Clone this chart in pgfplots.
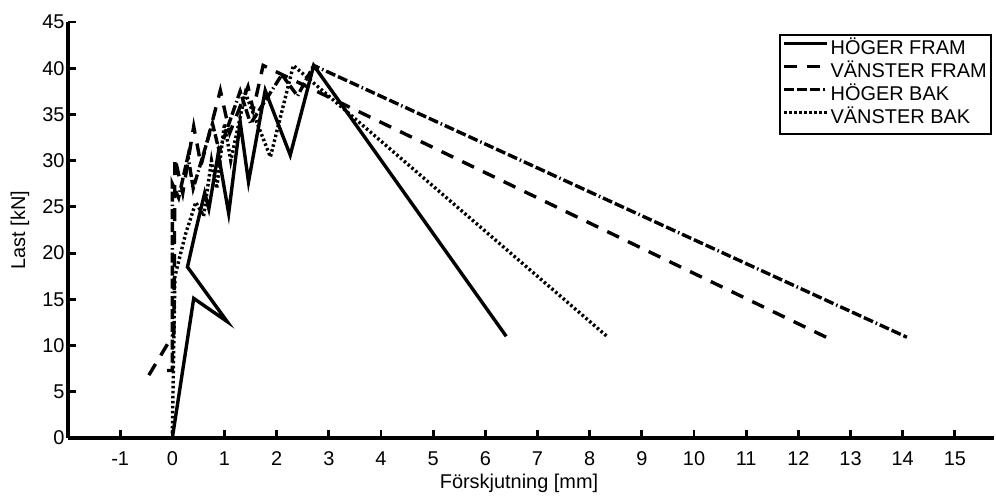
\documentclass[border=0pt]{standalone}
\usepackage{fontspec}
\setmainfont{Liberation Sans}
\usepackage{pgfplots}
\pgfplotsset{compat=1.18}

\begin{document}
\begin{tikzpicture}
\begin{axis}[
  scale only axis,
  width=926bp, height=416bp,
  xmin=-2, xmax=15.75,
  ymin=0, ymax=45,
  axis x line*=bottom, axis y line*=left,
  axis line style={-, line width=3.2bp, black},
  xtick={-1,0,...,15},
  ytick={0,5,...,45},
  tick align=inside,
  major tick length=8bp,
  tick style={line width=2.8bp, black},
  /pgf/number format/assume math mode=true,
  tick label style={font=\fontsize{20}{24}\selectfont},
  xticklabel style={anchor=base, yshift=-27bp},
  every axis x label/.style={at={(axis description cs:0.5,0)}, anchor=base,
    yshift=-50bp, xshift=-12bp, font=\fontsize{20}{24}\selectfont},
  every axis y label/.style={at={(axis description cs:0,0.5)}, xshift=-48bp,
    rotate=90, anchor=center, font=\fontsize{20}{24}\selectfont},
  xlabel={Förskjutning [mm]},
  ylabel={Last [kN]},
  legend cell align=left,
  legend style={at={(0.998,0.971)}, anchor=north east, draw=black, line width=1.8bp,
    fill=white, font=\fontsize{20}{24}\selectfont,
    inner xsep=3bp, inner ysep=5bp, row sep=3bp,
    nodes={inner sep=1.5bp, text height=13.5bp, text depth=3.5bp}},
  legend image code/.code={\draw[#1] (0bp,6.5bp) -- (43bp,6.5bp);},
  every axis plot/.append style={line width=3.4bp, black},
]
% HÖGER FRAM
\addplot[solid] coordinates {
  (0,0) (0.41,15.1) (1.05,12.6) (0.29,18.5) (0.45,22.5) (0.62,26.5)
  (0.70,24.8) (0.88,30.8) (1.08,24.3) (1.30,34.2) (1.46,27.7)
  (1.78,37.6) (2.26,30.6) (2.71,40.3) (6.40,11.0)
};
% VÄNSTER FRAM
\addplot[dash pattern=on 13bp off 10bp] coordinates {
  (-0.45,6.8) (0.03,11.3) (0.05,30.3) (0.20,26.5) (0.41,33.7) (0.55,29.5)
  (0.92,37.6) (1.10,33.0) (1.45,38.0) (1.55,35.5) (1.74,40.3) (12.57,10.8)
};
% HÖGER BAK
\addplot[dash pattern=on 10bp off 3bp on 10bp off 3bp on 10bp off 3bp on 1.5bp off 3bp] coordinates {
  (-0.10,7.3) (0,7.3) (0,27.5) (0.12,26.0) (0.30,30.5) (0.40,27.0)
  (0.77,34.0) (0.90,31.0) (1.30,37.5) (1.50,34.0) (2.10,39.3)
  (2.40,37.0) (2.71,40.3) (14.08,10.9)
};
% VÄNSTER BAK
\addplot[dash pattern=on 2.5bp off 2.5bp] coordinates {
  (0,0.5) (0.05,17.5) (0.25,22.0) (0.45,25.5) (0.60,24.0) (0.75,30.0)
  (0.85,27.0) (1.00,34.0) (1.12,30.0) (1.40,37.3) (1.88,30.4)
  (2.32,40.3) (8.33,11.0)
};
\legend{HÖGER FRAM, VÄNSTER FRAM, HÖGER BAK, VÄNSTER BAK}
\coordinate (O) at (rel axis cs:0,0);
\end{axis}
\pgfresetboundingbox
\path (O) ++(-68bp,-66bp) rectangle ++(996bp,504bp);
\end{tikzpicture}
\end{document}
